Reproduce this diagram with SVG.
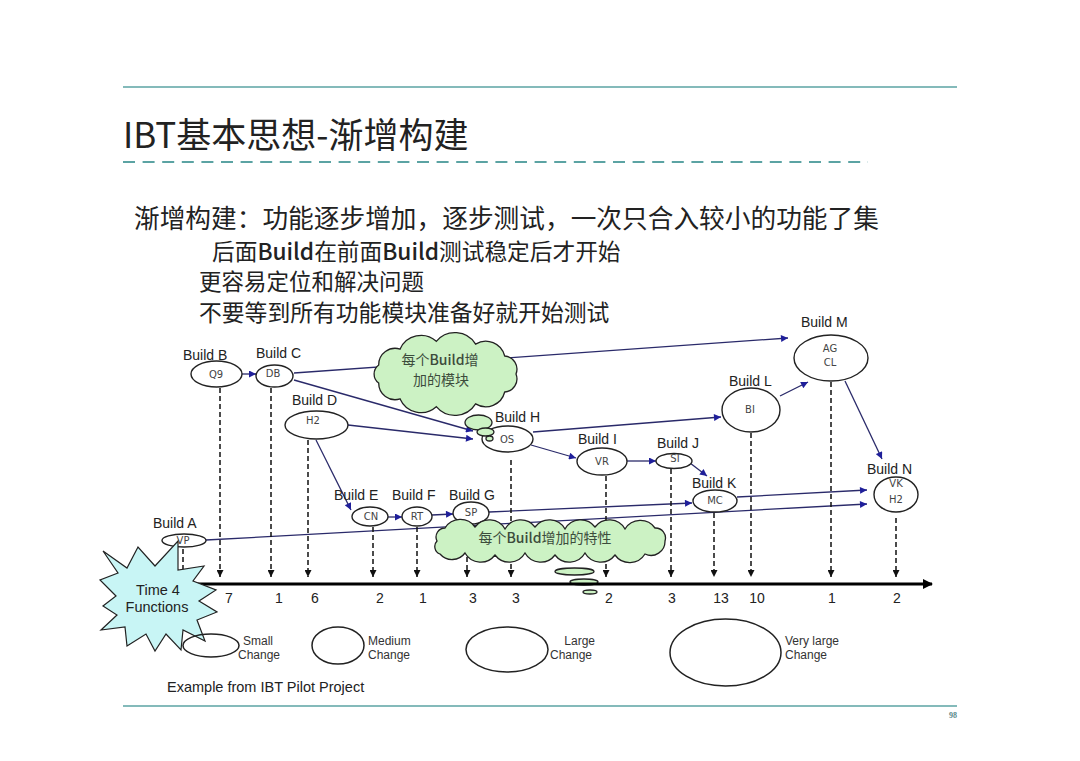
<svg xmlns="http://www.w3.org/2000/svg" width="1080" height="761" viewBox="0 0 1080 761">
<style>
.cjk{font-family:"Noto Sans CJK SC","Noto Sans",sans-serif;fill:#222}
.lbl{font-family:"Liberation Sans",Arial,sans-serif;font-size:14px;fill:#222}
.in{font-family:"DejaVu Sans",sans-serif;font-size:10px;fill:#444;text-anchor:middle}
.num{font-family:"Liberation Sans",Arial,sans-serif;font-size:14px;fill:#222;text-anchor:middle}
.nd{fill:#fff;stroke:#222;stroke-width:1.4}
.cn{stroke:#2a2a6a;stroke-width:1.3;fill:none;marker-end:url(#ab)}
.dr{stroke:#111;stroke-width:1.5;stroke-dasharray:5 3;fill:none;marker-end:url(#ak)}
.cl{fill:#ccf2c4;stroke:#222;stroke-width:1.3}
.ct{font-family:"Noto Sans CJK SC","Noto Sans",sans-serif;font-size:14px;fill:#3c4c3c;text-anchor:middle}
.lg{fill:none;stroke:#222;stroke-width:1.5}
.lt{font-family:"Liberation Sans",Arial,sans-serif;font-size:12px;fill:#333}
.rule{stroke:#5ba3a3;stroke-width:1.5}
.b{font-weight:500}
</style>
<defs>
<marker id="ab" viewBox="0 0 10 10" refX="10" refY="5" markerWidth="9" markerHeight="7" markerUnits="userSpaceOnUse" orient="auto"><path d="M0,0 L10,5 L0,10 z" fill="#1f1f9a"/></marker>
<marker id="ak" viewBox="0 0 10 10" refX="10" refY="5" markerWidth="8" markerHeight="7" markerUnits="userSpaceOnUse" orient="auto"><path d="M0,0 L10,5 L0,10 z" fill="#111"/></marker>
<marker id="ax" viewBox="0 0 10 10" refX="9" refY="5" markerWidth="13" markerHeight="10" markerUnits="userSpaceOnUse" orient="auto"><path d="M0,0 L10,5 L0,10 z" fill="#000"/></marker>
</defs>
<rect width="1080" height="761" fill="#fff"/>

<g id="header">
<line class="rule" x1="123" y1="87" x2="957" y2="87"/>
<text class="cjk" x="123" y="148" font-size="35">IBT基本思想-渐增构建</text>
<line x1="123" y1="162" x2="868" y2="162" stroke="#5ba3a3" stroke-width="2" stroke-dasharray="12 7.6"/>
<text class="cjk" x="134" y="228" font-size="25.7">渐增构建：功能逐步增加，逐步测试，一次只合入较小的功能了集</text>
<text class="cjk" x="212" y="260" font-size="22.7">后面<tspan class="b">Build</tspan>在前面<tspan class="b">Build</tspan>测试稳定后才开始</text>
<text class="cjk" x="199" y="290" font-size="22.5">更容易定位和解决问题</text>
<text class="cjk" x="199" y="321" font-size="22.8">不要等到所有功能模块准备好就开始测试</text>
</g>

<g id="connectors">
<line class="cn" x1="242" y1="374" x2="256" y2="374"/>
<line class="cn" x1="294" y1="373" x2="788" y2="338"/>
<line class="cn" x1="294" y1="380" x2="473" y2="431"/>
<line class="cn" x1="348" y1="425" x2="473" y2="439"/>
<line class="cn" x1="316" y1="440" x2="351" y2="510"/>
<line class="cn" x1="388" y1="517" x2="402" y2="517"/>
<line class="cn" x1="432" y1="515" x2="453" y2="514"/>
<line class="cn" x1="489" y1="512" x2="692" y2="503"/>
<line class="cn" x1="206" y1="540" x2="867" y2="504"/>
<line class="cn" x1="533" y1="432" x2="721" y2="417"/>
<line class="cn" x1="531" y1="445" x2="576" y2="458"/>
<line class="cn" x1="627" y1="461" x2="656" y2="461"/>
<line class="cn" x1="690" y1="463" x2="707" y2="476"/>
<line class="cn" x1="737" y1="497" x2="867" y2="490"/>
<line class="cn" x1="780" y1="396" x2="808" y2="382"/>
<line class="cn" x1="845" y1="381" x2="882" y2="459"/>
</g>

<g id="drops">
<line class="dr" x1="183" y1="549" x2="183" y2="577"/>
<line class="dr" x1="220" y1="388" x2="220" y2="577"/>
<line class="dr" x1="271" y1="388" x2="271" y2="577"/>
<line class="dr" x1="308" y1="440" x2="308" y2="577"/>
<line class="dr" x1="373" y1="527" x2="373" y2="577"/>
<line class="dr" x1="417" y1="527" x2="417" y2="577"/>
<line class="dr" x1="467" y1="525" x2="467" y2="577"/>
<line class="dr" x1="511" y1="460" x2="511" y2="577"/>
<line class="dr" x1="606" y1="476" x2="606" y2="577"/>
<line class="dr" x1="671" y1="469" x2="671" y2="577"/>
<line class="dr" x1="714" y1="513" x2="714" y2="577"/>
<line class="dr" x1="751" y1="433" x2="751" y2="577"/>
<line class="dr" x1="831" y1="382" x2="831" y2="577"/>
<line class="dr" x1="896" y1="518" x2="896" y2="577"/>
</g>

<g id="node-A"><ellipse class="nd" cx="184" cy="540.5" rx="22" ry="6.5"/><text class="in" x="183" y="544">VP</text><text class="lbl" x="153" y="528">Build A</text></g>
<g id="node-B"><ellipse class="nd" cx="216.5" cy="374" rx="25.5" ry="13"/><text class="in" x="216" y="378">Q9</text><text class="lbl" x="183" y="360">Build B</text></g>
<g id="node-C"><ellipse class="nd" cx="274.5" cy="376" rx="18.5" ry="11"/><text class="in" x="273" y="377">DB</text><text class="lbl" x="256" y="358">Build C</text></g>
<g id="node-D"><ellipse class="nd" cx="316.5" cy="425" rx="31.5" ry="14"/><text class="in" x="313" y="424">H2</text><text class="lbl" x="292" y="405">Build D</text></g>
<g id="node-E"><ellipse class="nd" cx="370" cy="516.5" rx="18" ry="9.5"/><text class="in" x="371" y="520">CN</text><text class="lbl" x="334" y="500">Build E</text></g>
<g id="node-F"><ellipse class="nd" cx="417" cy="516.5" rx="15" ry="9.5"/><text class="in" x="417" y="520">RT</text><text class="lbl" x="392" y="500">Build F</text></g>
<g id="node-G"><ellipse class="nd" cx="471" cy="513" rx="18" ry="11"/><text class="in" x="471" y="516">SP</text><text class="lbl" x="449" y="500">Build G</text></g>
<g id="node-H"><ellipse class="nd" cx="507.5" cy="439" rx="25.5" ry="13"/><text class="in" x="507" y="443">OS</text><text class="lbl" x="495" y="422">Build H</text></g>
<g id="node-I"><ellipse class="nd" cx="602" cy="461.5" rx="25" ry="13.5"/><text class="in" x="602" y="465">VR</text><text class="lbl" x="578" y="444">Build I</text></g>
<g id="node-J"><ellipse class="nd" cx="674" cy="461" rx="18" ry="7.5"/><text class="in" x="675" y="462">SI</text><text class="lbl" x="657" y="448">Build J</text></g>
<g id="node-K"><ellipse class="nd" cx="715" cy="501" rx="22" ry="11"/><text class="in" x="715" y="504">MC</text><text class="lbl" x="692" y="488">Build K</text></g>
<g id="node-L"><ellipse class="nd" cx="751" cy="410" rx="29" ry="22"/><text class="in" x="750" y="413">BI</text><text class="lbl" x="729" y="386">Build L</text></g>
<g id="node-M"><ellipse class="nd" cx="831" cy="358" rx="37" ry="23"/><text class="in" x="830" y="352">AG</text><text class="in" x="830" y="366">CL</text><text class="lbl" x="801" y="327">Build M</text></g>
<g id="node-N"><ellipse class="nd" cx="896" cy="494.5" rx="22" ry="17.5"/><text class="in" x="896" y="487">VK</text><text class="in" x="896" y="503">H2</text><text class="lbl" x="867" y="474">Build N</text></g>

<g id="cloud-modules">
<path class="cl" d="M516,374 A13.2,13.2 0 0 1 504.7,392 A19.5,19.5 0 0 1 475.6,403.9 A24.4,24.4 0 0 1 436.3,406.7 A22.9,22.9 0 0 1 400.1,398.9 A16.5,16.5 0 0 1 378.7,383.1 A11.3,11.3 0 0 1 378.7,364.9 A16.5,16.5 0 0 1 400.1,349.1 A22.9,22.9 0 0 1 436.3,341.3 A24.4,24.4 0 0 1 475.6,344.1 A19.5,19.5 0 0 1 504.7,356 A13.2,13.2 0 0 1 516,374 Z"/>
<ellipse class="cl" cx="478.5" cy="422.5" rx="13.5" ry="7.5"/>
<ellipse class="cl" cx="485.5" cy="432" rx="8.5" ry="4"/>
<ellipse class="cl" cx="489.5" cy="438.5" rx="3.5" ry="2.5"/>
<text class="ct" x="440" y="365">每个<tspan class="b">Build</tspan>增</text>
<text class="ct" x="441" y="385">加的模块</text>
</g>

<g id="cloud-features">
<path class="cl" d="M445,528 A18,18 0 0 1 475,527 A18,18 0 0 1 505,529 A18,18 0 0 1 535,527 A18,18 0 0 1 565,529 A18,18 0 0 1 595,527 A18,18 0 0 1 625,529 A18,18 0 0 1 655,528 A10,10 0 0 1 665,541 A14,14 0 0 1 645,554 A18,18 0 0 1 615,555 A18,18 0 0 1 585,553 A18,18 0 0 1 555,555 A18,18 0 0 1 525,553 A18,18 0 0 1 495,555 A18,18 0 0 1 465,553 A16,16 0 0 1 440,554 A8,8 0 0 1 437,541 A9,9 0 0 1 445,528 Z"/>
<ellipse class="cl" cx="574.5" cy="571.5" rx="19.5" ry="3.5"/>
<ellipse class="cl" cx="584" cy="582" rx="14" ry="3"/>
<ellipse class="cl" cx="590" cy="592" rx="7" ry="2"/>
<text class="ct" x="545" y="543" font-size="13.5">每个<tspan class="b">Build</tspan>增加的特性</text>
</g>

<g id="axis">
<line x1="185" y1="584" x2="932" y2="584" stroke="#000" stroke-width="3" marker-end="url(#ax)"/>
<text class="num" x="229" y="603">7</text>
<text class="num" x="279" y="603">1</text>
<text class="num" x="315" y="603">6</text>
<text class="num" x="380" y="603">2</text>
<text class="num" x="423" y="603">1</text>
<text class="num" x="473" y="603">3</text>
<text class="num" x="516" y="603">3</text>
<text class="num" x="609" y="603">2</text>
<text class="num" x="672" y="603">3</text>
<text class="num" x="721" y="603">13</text>
<text class="num" x="757" y="603">10</text>
<text class="num" x="832" y="603">1</text>
<text class="num" x="897" y="603" font-size="16">2</text>
</g>

<g id="star">
<polygon points="103,551 127,568 138,547 155,566 178,541 178,570 204,566 193,581 216,590 199,601 217,612 197,620 205,641 183,630 181,650 166,634 155,651 146,634 127,646 125,627 101,630 117,615 103,606 116,596 100,580 118,573" fill="#c8f5f5" stroke="#222" stroke-width="1.2"/>
<text x="158" y="595" font-family="Liberation Sans,Arial,sans-serif" font-size="14.5" fill="#222" text-anchor="middle">Time 4</text>
<text x="157" y="612" font-family="Liberation Sans,Arial,sans-serif" font-size="14.5" fill="#222" text-anchor="middle">Functions</text>
</g>

<g id="legend">
<ellipse class="lg" cx="211" cy="645.5" rx="28" ry="11.5"/>
<text class="lt" x="243" y="645">Small</text><text class="lt" x="238" y="659">Change</text>
<ellipse class="lg" cx="338" cy="645.5" rx="26" ry="18.5"/>
<text class="lt" x="368" y="645">Medium</text><text class="lt" x="368" y="659">Change</text>
<ellipse class="lg" cx="507" cy="649.5" rx="41" ry="22.5"/>
<text class="lt" x="595" y="645" text-anchor="end">Large</text><text class="lt" x="550" y="659">Change</text>
<ellipse class="lg" cx="725.5" cy="652.5" rx="55.5" ry="33.5"/>
<text class="lt" x="785" y="645">Very large</text><text class="lt" x="785" y="659">Change</text>
<text x="167" y="692" font-family="Liberation Sans,Arial,sans-serif" font-size="14.5" fill="#222">Example from IBT Pilot Project</text>
</g>

<g id="footer">
<line class="rule" x1="123" y1="706" x2="957" y2="706"/>
<text x="957" y="718" font-family="Liberation Serif,serif" font-size="8" font-weight="bold" fill="#5a8a8a" text-anchor="end">98</text>
</g>
</svg>
